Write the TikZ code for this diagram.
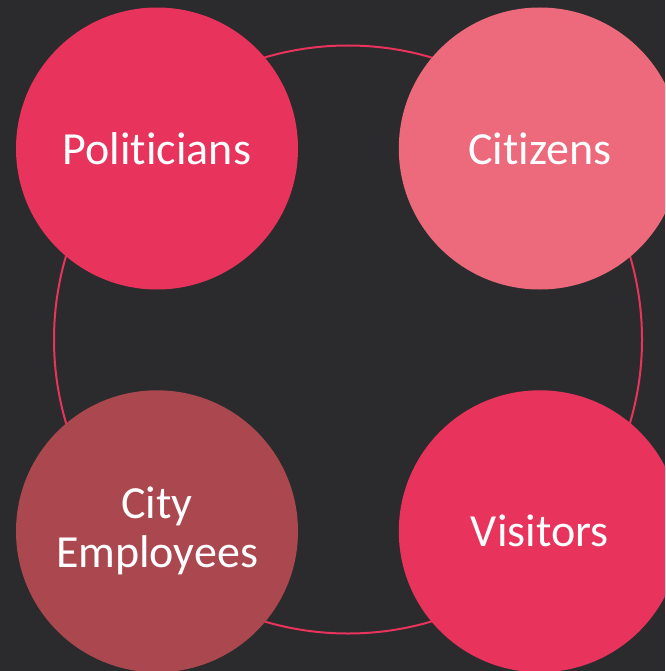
\documentclass[tikz,border=0pt]{standalone}
\usepackage{fontspec}
\setmainfont[Ligatures={NoCommon,NoRequired,NoContextual}]{Carlito}
\usepackage{tikz}
\usetikzlibrary{positioning}
\definecolor{slate}{HTML}{2B2B2D}
\definecolor{crimson}{HTML}{E8335C}
\definecolor{salmon}{HTML}{EC6A7B}
\definecolor{brick}{HTML}{AB484F}
\tikzset{every picture/.style={line width=0.8pt}}

\begin{document}
\begin{tikzpicture}[node distance=100pt,
  group/.style={circle, minimum size=282pt, inner sep=0pt, text=white, align=center,
    font=\fontsize{46}{49}\selectfont}]
  \clip (0,0) rectangle (665pt,-671pt);
  \fill[slate] (0,0) rectangle (665pt,-671pt);
  \coordinate (hub) at (348pt,-339.5pt);
  \draw[crimson, line width=2pt] (hub) circle (294pt);
  \node[group, fill=crimson] (politicians) at (157pt,-148.5pt) {Politicians};
  \node[group, fill=salmon, right=of politicians] (citizens) {Citizens};
  \node[group, fill=brick, below=of politicians] (employees) {City\\Employees};
  \node[group, fill=crimson, right=of employees] (visitors) {Visitors};
\end{tikzpicture}
\end{document}
